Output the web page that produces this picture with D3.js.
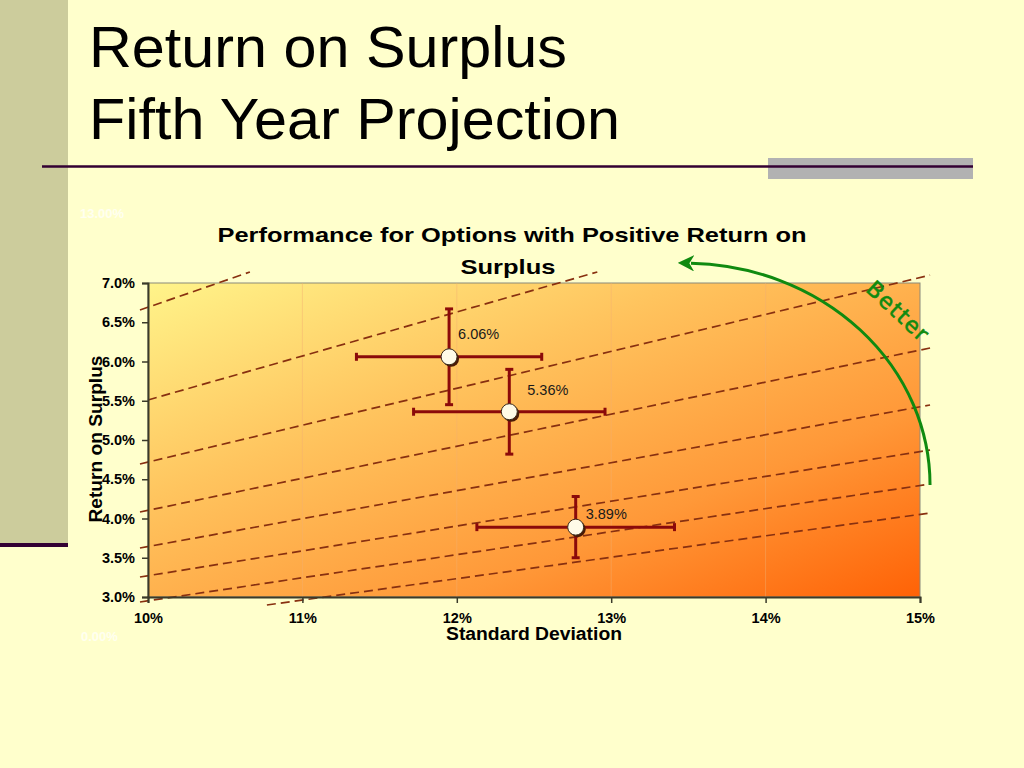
<!DOCTYPE html>
<html>
<head>
<meta charset="utf-8">
<title>Return on Surplus - Fifth Year Projection</title>
<script src="https://cdn.jsdelivr.net/npm/d3@7/dist/d3.min.js"></script>
<style>
  body { margin: 0; background: #ffffcc; }
  svg { display: block; font-family: "Liberation Sans", Arial, sans-serif; }
</style>
</head>
<body>
<svg id="slide" width="1024" height="768"></svg>
<script>
// Options plotted: standard deviation vs. return on surplus
const optionLabels = ['6.06%', '5.36%', '3.89%'];
const optionSd = [0.1195, 0.1234, 0.1277];
const optionReturn = [0.0606, 0.0536, 0.0389];
const sdError = [0.0060, 0.0062, 0.0064];
const returnError = [0.0061, 0.0054, 0.0039];

// Axis ticks
const xTicks = [0.10, 0.11, 0.12, 0.13, 0.14, 0.15];
const yTicks = [0.030, 0.035, 0.040, 0.045, 0.050, 0.055, 0.060, 0.065, 0.070];

// Dashed reference lines (start / end in chart units)
const refStartSd = [0.09948, 0.1000, 0.09948, 0.09948, 0.09948, 0.09948, 0.09948, 0.1077];
const refStartRet = [0.06656, 0.0551, 0.04694, 0.04083, 0.03624, 0.03255, 0.02936, 0.02898];
const refEndSd = [0.1066, 0.1291, 0.15065, 0.15065, 0.15065, 0.15065, 0.15065, 0.15065];
const refEndRet = [0.0714, 0.0714, 0.0710, 0.06172, 0.05446, 0.04873, 0.04439, 0.0407];

// "Better" arrow: quarter ellipse from start to end
const arrowStart = [0.15065, 0.04427];
const arrowEnd = [0.13478, 0.07255];

const svg = d3.select('#slide');
const plot = { left: 148, right: 920, top: 283, bottom: 597 };

// ---- slide decoration ----
svg.append('rect')
  .attr('x', 0).attr('y', 0)
  .attr('width', 68).attr('height', 545)
  .attr('fill', '#cccc9c');

svg.append('rect')
  .attr('x', 0).attr('y', 543)
  .attr('width', 68).attr('height', 4)
  .attr('fill', '#330033');

svg.append('rect')
  .attr('x', 768).attr('y', 158)
  .attr('width', 205).attr('height', 21)
  .attr('fill', '#b2b2b2');

svg.append('line')
  .attr('x1', 42).attr('x2', 973)
  .attr('y1', 166.5).attr('y2', 166.5)
  .attr('stroke', '#330033')
  .attr('stroke-width', 2.5);

svg.append('text')
  .attr('x', 89).attr('y', 67)
  .attr('font-size', 58)
  .attr('textLength', 478)
  .attr('lengthAdjust', 'spacingAndGlyphs')
  .attr('fill', '#000')
  .text('Return on Surplus');

svg.append('text')
  .attr('x', 89).attr('y', 139)
  .attr('font-size', 58)
  .attr('textLength', 531)
  .attr('lengthAdjust', 'spacingAndGlyphs')
  .attr('fill', '#000')
  .text('Fifth Year Projection');

// ghost labels of the overlaid reference chart
svg.append('text')
  .attr('x', 80).attr('y', 218)
  .attr('font-size', 13).attr('font-weight', 'bold')
  .attr('fill', '#fffff0')
  .text('13.00%');

svg.append('text')
  .attr('x', 81).attr('y', 641)
  .attr('font-size', 13).attr('font-weight', 'bold')
  .attr('fill', '#fffff0')
  .text('0.00%');

// ---- scales ----
const x = d3.scaleLinear()
  .domain([0.10, 0.15])
  .range([plot.left, plot.right]);

const y = d3.scaleLinear()
  .domain([0.030, 0.070])
  .range([plot.bottom, plot.top]);

// ---- plot area ----
const defs = svg.append('defs');

const grad = defs.append('linearGradient')
  .attr('id', 'plotFill')
  .attr('x1', 0).attr('y1', 0)
  .attr('x2', 1).attr('y2', 1);
grad.append('stop').attr('offset', '0%').attr('stop-color', '#fff48a');
grad.append('stop').attr('offset', '35%').attr('stop-color', '#ffc45e');
grad.append('stop').attr('offset', '70%').attr('stop-color', '#ff9838');
grad.append('stop').attr('offset', '100%').attr('stop-color', '#ff6206');

const marker = defs.append('marker')
  .attr('id', 'arrowHead')
  .attr('viewBox', '0 0 10 10')
  .attr('refX', 2).attr('refY', 5)
  .attr('markerWidth', 5.5).attr('markerHeight', 5.5)
  .attr('orient', 'auto')
  .attr('markerUnits', 'strokeWidth');
marker.append('path')
  .attr('d', 'M0,0 L10,5 L0,10 L3,5 Z')
  .attr('fill', '#108a10');

svg.append('rect')
  .attr('x', plot.left).attr('y', plot.top)
  .attr('width', plot.right - plot.left)
  .attr('height', plot.bottom - plot.top)
  .attr('fill', 'url(#plotFill)')
  .attr('stroke', '#8a8a7a')
  .attr('stroke-width', 1);

// faint vertical gridlines
svg.append('g')
  .selectAll('line')
  .data(xTicks.slice(1, -1))
  .join('line')
    .attr('x1', d => x(d)).attr('x2', d => x(d))
    .attr('y1', plot.top).attr('y2', plot.bottom)
    .attr('stroke', '#f2b070')
    .attr('stroke-opacity', 0.45)
    .attr('stroke-width', 1);

// dashed reference lines
svg.append('g')
  .selectAll('line')
  .data(d3.range(refStartSd.length))
  .join('line')
    .attr('x1', i => x(refStartSd[i]))
    .attr('y1', i => y(refStartRet[i]))
    .attr('x2', i => x(refEndSd[i]))
    .attr('y2', i => y(refEndRet[i]))
    .attr('stroke', '#883010')
    .attr('stroke-width', 1.7)
    .attr('stroke-dasharray', '9,5');

// axes
const yAxis = svg.append('g')
  .attr('transform', `translate(${plot.left},0)`)
  .call(d3.axisLeft(y).tickValues(yTicks).tickSize(6).tickPadding(7)
    .tickFormat(d3.format('.1%')));

const xAxis = svg.append('g')
  .attr('transform', `translate(0,${plot.bottom})`)
  .call(d3.axisBottom(x).tickValues(xTicks).tickSize(6).tickPadding(10)
    .tickFormat(d3.format('.0%')));

[xAxis, yAxis].forEach(ax => {
  ax.select('.domain').attr('stroke', '#3a3a2a').attr('stroke-width', 2);
  ax.selectAll('.tick line').attr('stroke', '#3a3a2a').attr('stroke-width', 1.5);
  ax.selectAll('.tick text')
    .attr('font-family', '"Liberation Sans", Arial, sans-serif')
    .attr('font-size', 14.5)
    .attr('font-weight', 'bold')
    .attr('fill', '#000');
});

// titles
svg.append('text')
  .attr('x', 512).attr('y', 242)
  .attr('text-anchor', 'middle')
  .attr('font-size', 21).attr('font-weight', 'bold')
  .attr('textLength', 589)
  .attr('lengthAdjust', 'spacingAndGlyphs')
  .text('Performance for Options with Positive Return on');

svg.append('text')
  .attr('x', 508).attr('y', 274)
  .attr('text-anchor', 'middle')
  .attr('font-size', 21).attr('font-weight', 'bold')
  .attr('textLength', 95)
  .attr('lengthAdjust', 'spacingAndGlyphs')
  .text('Surplus');

svg.append('text')
  .attr('x', 534).attr('y', 640)
  .attr('text-anchor', 'middle')
  .attr('font-size', 18).attr('font-weight', 'bold')
  .attr('textLength', 176)
  .attr('lengthAdjust', 'spacingAndGlyphs')
  .text('Standard Deviation');

svg.append('text')
  .attr('transform', 'translate(102,439) rotate(-90)')
  .attr('text-anchor', 'middle')
  .attr('font-size', 18).attr('font-weight', 'bold')
  .attr('textLength', 167)
  .attr('lengthAdjust', 'spacingAndGlyphs')
  .text('Return on Surplus');

// ---- error bars and points ----
const barColor = '#8b0a0a';
const capHalf = 4;
const points = svg.append('g')
  .selectAll('g')
  .data(d3.range(optionSd.length))
  .join('g');

// horizontal bars
points.append('line')
  .attr('x1', i => x(optionSd[i] - sdError[i]))
  .attr('x2', i => x(optionSd[i] + sdError[i]))
  .attr('y1', i => y(optionReturn[i]))
  .attr('y2', i => y(optionReturn[i]))
  .attr('stroke', barColor).attr('stroke-width', 3);

// vertical bars
points.append('line')
  .attr('x1', i => x(optionSd[i]))
  .attr('x2', i => x(optionSd[i]))
  .attr('y1', i => y(optionReturn[i] + returnError[i]))
  .attr('y2', i => y(optionReturn[i] - returnError[i]))
  .attr('stroke', barColor).attr('stroke-width', 3);

// caps
[-1, 1].forEach(s => {
  points.append('line')
    .attr('x1', i => x(optionSd[i] + s * sdError[i]))
    .attr('x2', i => x(optionSd[i] + s * sdError[i]))
    .attr('y1', i => y(optionReturn[i]) - capHalf)
    .attr('y2', i => y(optionReturn[i]) + capHalf)
    .attr('stroke', barColor).attr('stroke-width', 3);
  points.append('line')
    .attr('x1', i => x(optionSd[i]) - capHalf)
    .attr('x2', i => x(optionSd[i]) + capHalf)
    .attr('y1', i => y(optionReturn[i] + s * returnError[i]))
    .attr('y2', i => y(optionReturn[i] + s * returnError[i]))
    .attr('stroke', barColor).attr('stroke-width', 3);
});

// marker shadow + marker
points.append('circle')
  .attr('cx', i => x(optionSd[i]) + 2)
  .attr('cy', i => y(optionReturn[i]) + 2)
  .attr('r', 8)
  .attr('fill', '#4a1a05');

points.append('circle')
  .attr('cx', i => x(optionSd[i]))
  .attr('cy', i => y(optionReturn[i]))
  .attr('r', 8)
  .attr('fill', '#fffbe8')
  .attr('stroke', '#3a2a1a')
  .attr('stroke-width', 1);

// data labels
const labelOffsets = [[9, -18], [18, -17], [10, -8]];
points.append('text')
  .attr('x', i => x(optionSd[i]) + labelOffsets[i][0])
  .attr('y', i => y(optionReturn[i]) + labelOffsets[i][1])
  .attr('font-size', 14.5)
  .attr('fill', '#1a1a1a')
  .text(i => optionLabels[i]);

// ---- "Better" arrow ----
const ax0 = x(arrowStart[0]), ay0 = y(arrowStart[1]);
const ax1 = x(arrowEnd[0]), ay1 = y(arrowEnd[1]);
const rx = ax0 - ax1, ry = ay0 - ay1;

svg.append('path')
  .attr('d', `M${ax0},${ay0} A${rx},${ry} 0 0 0 ${ax1 + 6},${ay1 + 0.2}`)
  .attr('fill', 'none')
  .attr('stroke', '#108a10')
  .attr('stroke-width', 3)
  .attr('marker-end', 'url(#arrowHead)');

svg.append('text')
  .attr('transform', 'translate(893,317) rotate(43)')
  .attr('text-anchor', 'middle')
  .attr('font-family', '"DejaVu Sans", sans-serif')
  .attr('font-size', 22)
  .attr('letter-spacing', 1.5)
  .attr('fill', '#108a10')
  .attr('stroke', '#108a10')
  .attr('stroke-width', 0.6)
  .text('Better');
</script>
</body>
</html>
